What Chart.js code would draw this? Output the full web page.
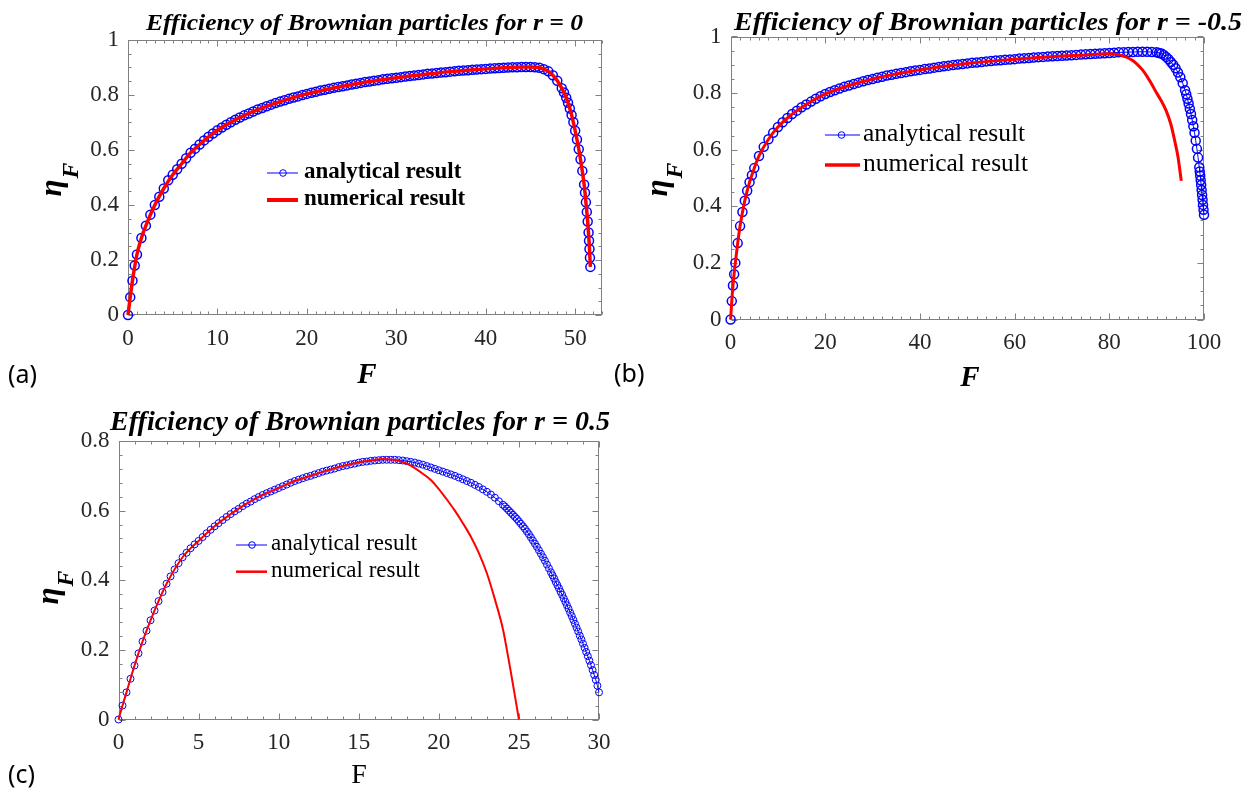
<!DOCTYPE html>
<html>
<head>
<meta charset="utf-8">
<title>Efficiency of Brownian particles</title>
<script src="https://cdn.jsdelivr.net/npm/chart.js@4.4.1/dist/chart.umd.min.js"></script>
<style>
  body { margin: 0; background: #fff; width: 1257px; height: 795px; overflow: hidden; position: relative; }
  canvas { position: absolute; }
</style>
</head>
<body>
<canvas id="cA"></canvas>
<canvas id="cB"></canvas>
<canvas id="cC"></canvas>
<script>
// ---- data ----
const legendLabels = ['analytical result', 'numerical result'];
const titles = [
  'Efficiency of Brownian particles for r = 0',
  'Efficiency of Brownian particles for r = -0.5',
  'Efficiency of Brownian particles for r = 0.5'
];
const tags = ['(a)', '(b)', '(c)'];

const xTicksA = [0, 10, 20, 30, 40, 50];
const xTicksB = [0, 20, 40, 60, 80, 100];
const xTicksC = [0, 5, 10, 15, 20, 25, 30];
const yTicksAB = [0, 0.2, 0.4, 0.6, 0.8, 1];
const yTicksC = [0, 0.2, 0.4, 0.6, 0.8];

// (a) r = 0
const fA_an = [
  0, 0.25, 0.5, 0.75, 1, 1.5, 2, 2.5, 3, 3.5,
  4, 4.5, 5, 5.5, 6, 6.5, 7, 7.5, 8, 8.5,
  9, 9.5, 10, 10.5, 11, 11.5, 12, 12.5, 13, 13.5,
  14, 14.5, 15, 15.5, 16, 16.5, 17, 17.5, 18, 18.5,
  19, 19.5, 20, 20.5, 21, 21.5, 22, 22.5, 23, 23.5,
  24, 24.5, 25, 25.5, 26, 26.5, 27, 27.5, 28, 28.5,
  29, 29.5, 30, 30.5, 31, 31.5, 32, 32.5, 33, 33.5,
  34, 34.5, 35, 35.5, 36, 36.5, 37, 37.5, 38, 38.5,
  39, 39.5, 40, 40.5, 41, 41.5, 42, 42.5, 43, 43.5,
  44, 44.5, 45, 45.5, 46, 46.5, 47, 47.5, 48, 48.5,
  48.75, 49, 49.2, 49.4, 49.6, 49.8, 50, 50.2, 50.4, 50.6,
  50.8, 51, 51.1, 51.2, 51.3, 51.4, 51.5, 51.55, 51.6, 51.65,
  51.7
];
const etaA_an = [
  0, 0.065, 0.125, 0.18, 0.22, 0.28, 0.325, 0.365, 0.40, 0.43,
  0.46, 0.49, 0.51, 0.53, 0.55, 0.57, 0.59, 0.605, 0.62, 0.635,
  0.648, 0.66, 0.672, 0.682, 0.692, 0.701, 0.71, 0.718, 0.726, 0.733,
  0.74, 0.747, 0.753, 0.759, 0.765, 0.771, 0.776, 0.781, 0.786, 0.791,
  0.795, 0.8, 0.804, 0.808, 0.812, 0.816, 0.819, 0.823, 0.826, 0.829,
  0.832, 0.835, 0.838, 0.841, 0.844, 0.847, 0.849, 0.852, 0.854, 0.857,
  0.859, 0.861, 0.863, 0.865, 0.867, 0.869, 0.871, 0.873, 0.875, 0.877,
  0.878, 0.88, 0.882, 0.883, 0.885, 0.886, 0.888, 0.889, 0.89, 0.892,
  0.893, 0.894, 0.895, 0.896, 0.897, 0.898, 0.899, 0.9, 0.901, 0.901,
  0.902, 0.902, 0.902, 0.901, 0.899, 0.894, 0.886, 0.872, 0.852, 0.825,
  0.809, 0.79, 0.772, 0.751, 0.727, 0.701, 0.67, 0.638, 0.603, 0.566,
  0.524, 0.475, 0.445, 0.41, 0.375, 0.34, 0.30, 0.27, 0.24, 0.208,
  0.175
];
const fA_num = [
  0, 0.25, 0.5, 1, 1.5, 2, 3, 4, 5, 6,
  7, 8, 9, 10, 12, 14, 16, 18, 20, 22,
  24, 26, 28, 30, 32, 34, 36, 38, 40, 42,
  44, 45, 46, 46.5, 47, 47.5, 48, 48.5, 49, 49.5,
  50, 50.5, 51, 51.2, 51.4, 51.6, 51.7
];
const etaA_num = [
  0, 0.065, 0.125, 0.22, 0.28, 0.325, 0.40, 0.46, 0.51, 0.55,
  0.59, 0.62, 0.648, 0.672, 0.71, 0.74, 0.765, 0.786, 0.804, 0.819,
  0.832, 0.844, 0.854, 0.863, 0.871, 0.878, 0.885, 0.89, 0.895, 0.899,
  0.902, 0.902, 0.899, 0.894, 0.886, 0.872, 0.852, 0.825, 0.79, 0.74,
  0.67, 0.585, 0.475, 0.41, 0.34, 0.24, 0.175
];

// (b) r = -0.5
const fB_an = [
  0, 0.25, 0.5, 0.75, 1, 1.5, 2, 2.5, 3, 3.5,
  4, 4.5, 5, 6, 7, 8, 9, 10, 11, 12,
  13, 14, 15, 16, 17, 18, 19, 20, 21, 22,
  23, 24, 25, 26, 27, 28, 29, 30, 31, 32,
  33, 34, 35, 36, 37, 38, 39, 40, 41, 42,
  43, 44, 45, 46, 47, 48, 49, 50, 51, 52,
  53, 54, 55, 56, 57, 58, 59, 60, 61, 62,
  63, 64, 65, 66, 67, 68, 69, 70, 71, 72,
  73, 74, 75, 76, 77, 78, 79, 80, 81, 82,
  83, 84, 85, 86, 87, 88, 89, 90, 90.5, 91,
  91.5, 92, 92.5, 93, 93.5, 94, 94.5, 95, 95.5, 96,
  96.25, 96.5, 96.75, 97, 97.25, 97.5, 97.75, 98, 98.25, 98.5,
  98.75, 99, 99.1, 99.2, 99.3, 99.4, 99.5, 99.6, 99.7, 99.8,
  99.9, 100
];
const etaB_an = [
  0, 0.065, 0.12, 0.16, 0.2, 0.27, 0.33, 0.38, 0.42, 0.455,
  0.485, 0.51, 0.535, 0.578, 0.61, 0.637, 0.66, 0.68, 0.697, 0.712,
  0.726, 0.738, 0.75, 0.76, 0.77, 0.78, 0.789, 0.797, 0.804, 0.81,
  0.816, 0.822, 0.827, 0.832, 0.837, 0.842, 0.846, 0.85, 0.854, 0.858,
  0.862, 0.865, 0.868, 0.871, 0.874, 0.877, 0.88, 0.882, 0.885, 0.887,
  0.89, 0.892, 0.895, 0.897, 0.899, 0.901, 0.903, 0.905, 0.907, 0.908,
  0.91, 0.912, 0.913, 0.915, 0.916, 0.918, 0.919, 0.92, 0.922, 0.923,
  0.924, 0.926, 0.927, 0.928, 0.929, 0.93, 0.931, 0.932, 0.933, 0.934,
  0.935, 0.936, 0.937, 0.938, 0.939, 0.94, 0.941, 0.942, 0.943, 0.944,
  0.944, 0.945, 0.945, 0.946, 0.946, 0.946, 0.945, 0.944, 0.942, 0.94,
  0.935, 0.928, 0.92, 0.91, 0.9, 0.888, 0.873, 0.856, 0.835, 0.81,
  0.796, 0.78, 0.763, 0.745, 0.726, 0.705, 0.683, 0.66, 0.632, 0.603,
  0.572, 0.538, 0.523, 0.508, 0.492, 0.475, 0.458, 0.44, 0.423, 0.405,
  0.388, 0.37
];
const fB_num = [
  0, 0.25, 0.5, 1, 1.5, 2, 3, 4, 5, 6,
  8, 10, 12, 14, 16, 18, 20, 25, 30, 35,
  40, 45, 50, 55, 60, 65, 70, 75, 78, 80,
  82, 84, 85, 86, 87, 88, 89, 90, 91, 92,
  93, 94, 94.5, 95, 95.2
];
const etaB_num = [
  0, 0.065, 0.12, 0.2, 0.27, 0.33, 0.42, 0.485, 0.535, 0.578,
  0.637, 0.68, 0.712, 0.738, 0.76, 0.78, 0.797, 0.827, 0.85, 0.868,
  0.882, 0.895, 0.905, 0.913, 0.92, 0.926, 0.931, 0.935, 0.938, 0.939,
  0.936, 0.924, 0.914, 0.9, 0.882, 0.858, 0.83, 0.80, 0.772, 0.738,
  0.69, 0.617, 0.575, 0.515, 0.49
];

// (c) r = 0.5
const fC_an = [
  0, 0.25, 0.5, 0.75, 1, 1.25, 1.5, 1.75, 2, 2.25, 2.5, 2.75,
  3, 3.25, 3.5, 3.75, 4, 4.25, 4.5, 4.75, 5, 5.25, 5.5, 5.75,
  6, 6.25, 6.5, 6.75, 7, 7.25, 7.5, 7.75, 8, 8.25, 8.5, 8.75,
  9, 9.25, 9.5, 9.75, 10, 10.25, 10.5, 10.75, 11, 11.25, 11.5, 11.75,
  12, 12.25, 12.5, 12.75, 13, 13.25, 13.5, 13.75, 14, 14.25, 14.5, 14.75,
  15, 15.25, 15.5, 15.75, 16, 16.25, 16.5, 16.75, 17, 17.25, 17.5, 17.75,
  18, 18.25, 18.5, 18.75, 19, 19.25, 19.5, 19.75, 20, 20.25, 20.5, 20.75,
  21, 21.25, 21.5, 21.75, 22, 22.25, 22.5, 22.75, 23, 23.25, 23.5, 23.75,
  24, 24.125, 24.25, 24.375, 24.5, 24.625, 24.75, 24.875,
  25, 25.125, 25.25, 25.375, 25.5, 25.625, 25.75, 25.875,
  26, 26.125, 26.25, 26.375, 26.5, 26.625, 26.75, 26.875,
  27, 27.1, 27.2, 27.3, 27.4, 27.5, 27.6, 27.7, 27.8, 27.9,
  28, 28.1, 28.2, 28.3, 28.4, 28.5, 28.6, 28.7, 28.8, 28.9,
  29, 29.1, 29.2, 29.3, 29.4, 29.5, 29.6, 29.7, 29.8, 29.9,
  30
];
const etaC_an = [
  0, 0.04, 0.078, 0.117, 0.155, 0.19, 0.224, 0.255, 0.285, 0.313, 0.34, 0.366,
  0.39, 0.411, 0.431, 0.449, 0.466, 0.479, 0.492, 0.503, 0.513, 0.524, 0.535, 0.545,
  0.555, 0.564, 0.573, 0.582, 0.59, 0.598, 0.605, 0.613, 0.62, 0.626, 0.633, 0.639,
  0.645, 0.65, 0.655, 0.66, 0.665, 0.67, 0.675, 0.68, 0.685, 0.689, 0.693, 0.697,
  0.70, 0.704, 0.708, 0.712, 0.715, 0.718, 0.721, 0.725, 0.728, 0.73, 0.733, 0.735,
  0.738, 0.74, 0.741, 0.743, 0.744, 0.745, 0.746, 0.746, 0.746, 0.746, 0.745, 0.744,
  0.742, 0.74, 0.738, 0.735, 0.732, 0.728, 0.724, 0.72, 0.716, 0.712, 0.708, 0.704,
  0.70, 0.695, 0.69, 0.685, 0.68, 0.674, 0.668, 0.661, 0.654, 0.646, 0.637, 0.627,
  0.617, 0.612, 0.606, 0.6, 0.594, 0.588, 0.582, 0.576,
  0.569, 0.562, 0.555, 0.548, 0.54, 0.532, 0.523, 0.514,
  0.505, 0.496, 0.486, 0.476, 0.466, 0.456, 0.445, 0.434,
  0.423, 0.414, 0.405, 0.395, 0.386, 0.377, 0.367, 0.358, 0.348, 0.338,
  0.328, 0.318, 0.307, 0.297, 0.286, 0.275, 0.264, 0.253, 0.241, 0.23,
  0.218, 0.206, 0.194, 0.182, 0.169, 0.156, 0.142, 0.128, 0.114, 0.097,
  0.078
];
const fC_num = [
  0, 0.25, 0.5, 1, 1.5, 2, 2.5, 3, 4, 5,
  6, 7, 8, 9, 10, 11, 12, 13, 14, 15,
  16, 16.5, 17, 17.5, 18, 18.5, 19, 19.5, 20, 20.5,
  21, 21.5, 22, 22.5, 23, 23.5, 24, 24.25, 24.5, 24.75,
  25
];
const etaC_num = [
  0, 0.04, 0.078, 0.155, 0.224, 0.285, 0.34, 0.39, 0.466, 0.513,
  0.555, 0.59, 0.62, 0.645, 0.665, 0.685, 0.70, 0.715, 0.728, 0.739,
  0.746, 0.748, 0.747, 0.743, 0.735, 0.722, 0.706, 0.688, 0.662, 0.632,
  0.60, 0.564, 0.525, 0.478, 0.42, 0.345, 0.26, 0.2, 0.135, 0.068,
  0
];

// ---- layout / style per panel ----
const SERIF = '"Liberation Serif", "Times New Roman", serif';
const BLUE = '#0000ff', RED = '#ff0000', AXIS = '#808080', TICKTXT = '#262626';

const panels = [
  { id: 'cA', left: 0, top: 0, w: 608, h: 400,
    box: { l: 128, r: 602, t: 40, b: 315 },
    xMax: 53, yMax: 1, xTicks: xTicksA, yTicks: yTicksAB, xMinor: 1, yMinor: 0.05,
    fAn: fA_an, etaAn: etaA_an, fNum: fA_num, etaNum: etaA_num,
    title: titles[0], titleX: 364.5, titleY: 30, titleW: 437, titleSize: 23,
    xLab: { x: 367, y: 383, font: 'bold italic 29px ' + SERIF },
    yLab: { x: 61, y: 180, sub: 17 },
    legend: { x1: 267, x2: 298, xm: 283, y1: 173, y2: 200, tx: 304, font: 'bold 23px ' + SERIF, size: 23 },
    tag: tags[0], tagX: 8, tagY: 383,
    redW: 3.5, markR: 4.5, markW: 1.5 },
  { id: 'cB', left: 608, top: 0, w: 649, h: 400,
    box: { l: 122.6, r: 596, t: 36.5, b: 319.5 },
    xMax: 100, yMax: 1, xTicks: xTicksB, yTicks: yTicksAB, xMinor: 2, yMinor: 0.05,
    fAn: fB_an, etaAn: etaB_an, fNum: fB_num, etaNum: etaB_num,
    title: titles[1], titleX: 380, titleY: 30, titleW: 508, titleSize: 26,
    xLab: { x: 362, y: 386, font: 'bold italic 29px ' + SERIF },
    yLab: { x: 59, y: 180, sub: 15 },
    legend: { x1: 217, x2: 252, xm: 233.5, y1: 135, y2: 165, tx: 255, font: '25.5px ' + SERIF, size: 25.5 },
    tag: tags[1], tagX: 6, tagY: 382,
    redW: 3, markR: 4.5, markW: 1.5 },
  { id: 'cC', left: 0, top: 400, w: 640, h: 395,
    box: { l: 118.5, r: 599, t: 41, b: 319.5 },
    xMax: 30, yMax: 0.8, xTicks: xTicksC, yTicks: yTicksC, xMinor: 1, yMinor: 0.04,
    fAn: fC_an, etaAn: etaC_an, fNum: fC_num, etaNum: etaC_num,
    title: titles[2], titleX: 360, titleY: 30, titleW: 500, titleSize: 28,
    xLab: { x: 359, y: 383, font: '28px ' + SERIF },
    yLab: { x: 58, y: 188, sub: 15 },
    legend: { x1: 236, x2: 267, xm: 252, y1: 145, y2: 171.7, tx: 271, font: '23px ' + SERIF, size: 23 },
    tag: tags[2], tagX: 8, tagY: 383,
    redW: 2, markR: 3.5, markW: 1 }
];

function toXY(xs, ys) {
  return xs.map((x, i) => ({ x: x, y: ys[i] }));
}

function seg(ctx, x1, y1, x2, y2) {
  ctx.beginPath(); ctx.moveTo(x1, y1); ctx.lineTo(x2, y2); ctx.stroke();
}

function makePanel(p) {
  const cv = document.getElementById(p.id);
  cv.width = p.w; cv.height = p.h;
  cv.style.left = p.left + 'px'; cv.style.top = p.top + 'px';
  cv.style.width = p.w + 'px'; cv.style.height = p.h + 'px';

  // box, inward major + minor ticks on all four sides (drawn under the data)
  const frame = {
    id: 'frame',
    beforeDatasetsDraw(chart) {
      const ctx = chart.ctx, xs = chart.scales.x, ys = chart.scales.y;
      const { left, right, top, bottom } = chart.chartArea;
      ctx.save();
      ctx.strokeStyle = AXIS; ctx.lineWidth = 1;
      const L = Math.round(left) + 0.5, R = Math.round(right) - 0.5;
      const T = Math.round(top) + 0.5, B = Math.round(bottom) - 0.5;
      ctx.strokeRect(L, T, R - L, B - T);
      for (let v = 0; v <= p.xMax + 1e-9; v += p.xMinor) {
        const x = Math.round(xs.getPixelForValue(v)) + 0.5;
        const len = p.xTicks.some(t => Math.abs(t - v) < 1e-9) ? 6 : 3;
        seg(ctx, x, B, x, B - len); seg(ctx, x, T, x, T + len);
      }
      for (let v = 0; v <= p.yMax + 1e-9; v += p.yMinor) {
        const y = Math.round(ys.getPixelForValue(v)) + 0.5;
        const len = p.yTicks.some(t => Math.abs(t - v) < 1e-9) ? 6 : 3;
        seg(ctx, L, y, L + len, y); seg(ctx, R, y, R - len, y);
      }
      ctx.restore();
    },
    afterDraw(chart) {
      const ctx = chart.ctx;
      ctx.save();
      ctx.fillStyle = '#000';
      // title, fitted to the measured width
      ctx.font = 'bold italic ' + p.titleSize + 'px ' + SERIF;
      ctx.textAlign = 'left'; ctx.textBaseline = 'alphabetic';
      const tw = ctx.measureText(p.title).width;
      ctx.save();
      ctx.translate(p.titleX - p.titleW / 2, p.titleY);
      ctx.scale(p.titleW / tw, 1);
      ctx.fillText(p.title, 0, 0);
      ctx.restore();
      // x label
      ctx.font = p.xLab.font; ctx.textAlign = 'center';
      ctx.fillText('F', p.xLab.x, p.xLab.y);
      // y label: eta with subscript F
      ctx.save();
      ctx.translate(p.yLab.x, p.yLab.y);
      ctx.rotate(-Math.PI / 2);
      ctx.textAlign = 'left';
      const fEta = 'bold italic 31px ' + SERIF, fSub = 'bold italic 24px ' + SERIF;
      ctx.font = fEta; const we = ctx.measureText('η').width;
      ctx.font = fSub; const wf = ctx.measureText('F').width;
      const x0 = -(we + wf) / 2;
      ctx.font = fEta; ctx.fillText('η', x0, 0);
      ctx.font = fSub; ctx.fillText('F', x0 + we + 1, p.yLab.sub);
      ctx.restore();
      // legend
      const lg = p.legend;
      ctx.strokeStyle = BLUE; ctx.lineWidth = 1;
      seg(ctx, lg.x1, lg.y1, lg.x2, lg.y1);
      ctx.beginPath(); ctx.arc(lg.xm, lg.y1, 3.3, 0, Math.PI * 2); ctx.stroke();
      ctx.strokeStyle = RED; ctx.lineWidth = p.redW + 0.5;
      seg(ctx, lg.x1, lg.y2, lg.x2, lg.y2);
      ctx.font = lg.font; ctx.textAlign = 'left'; ctx.textBaseline = 'alphabetic';
      ctx.fillText(legendLabels[0], lg.tx, lg.y1 + 0.23 * lg.size);
      ctx.fillText(legendLabels[1], lg.tx, lg.y2 + 0.23 * lg.size);
      // panel tag
      ctx.font = '25px "Noto Sans", "Open Sans", sans-serif';
      ctx.fillText(p.tag, p.tagX, p.tagY);
      ctx.restore();
    }
  };

  const tickFont = { family: SERIF, size: 23 };
  return new Chart(cv, {
    type: 'line',
    data: {
      datasets: [
        { label: legendLabels[1], data: toXY(p.fNum, p.etaNum),
          borderColor: RED, borderWidth: p.redW, pointRadius: 0,
          cubicInterpolationMode: 'monotone', fill: false, order: 0, clip: false },
        { label: legendLabels[0], data: toXY(p.fAn, p.etaAn),
          borderColor: BLUE, borderWidth: 1, tension: 0, fill: false,
          pointRadius: p.markR, pointBorderWidth: p.markW, pointBorderColor: BLUE,
          pointBackgroundColor: 'rgba(0,0,0,0)', order: 1, clip: false }
      ]
    },
    options: {
      responsive: false,
      animation: false,
      events: [],
      // the y scale takes the left margin and the x scale the bottom margin
      layout: { padding: { left: 0, right: p.w - p.box.r, top: p.box.t, bottom: 0 } },
      plugins: { legend: { display: false }, tooltip: { enabled: false }, title: { display: false } },
      scales: {
        x: {
          type: 'linear', min: 0, max: p.xMax,
          afterBuildTicks: s => { s.ticks = p.xTicks.map(v => ({ value: v })); },
          afterFit: s => { s.height = p.h - p.box.b; s.paddingLeft = 0; s.paddingRight = 0; },
          grid: { display: false, drawTicks: false }, border: { display: false },
          ticks: { font: tickFont, color: TICKTXT, padding: 10, maxRotation: 0, autoSkip: false,
                   callback: v => String(v) }
        },
        y: {
          type: 'linear', min: 0, max: p.yMax,
          afterBuildTicks: s => { s.ticks = p.yTicks.map(v => ({ value: v })); },
          afterFit: s => { s.width = p.box.l; s.paddingTop = 0; s.paddingBottom = 0; },
          grid: { display: false, drawTicks: false }, border: { display: false },
          ticks: { font: tickFont, color: TICKTXT, padding: 9, autoSkip: false,
                   callback: v => String(v) }
        }
      }
    },
    plugins: [frame]
  });
}

panels.forEach(makePanel);
</script>
</body>
</html>
